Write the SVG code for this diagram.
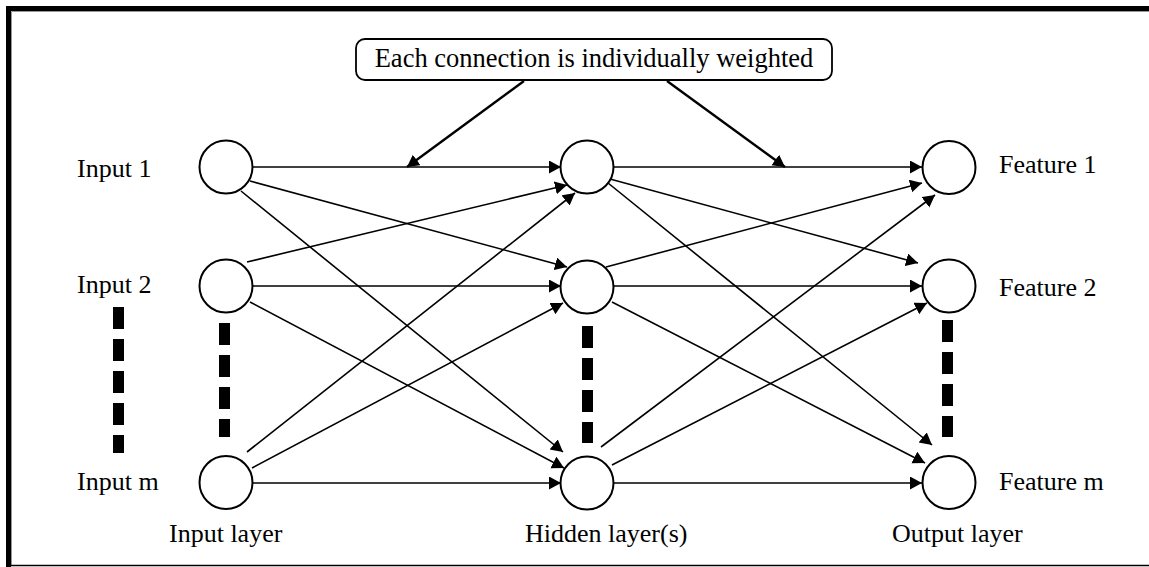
<svg xmlns="http://www.w3.org/2000/svg" width="1149" height="567" viewBox="0 0 1149 567">
<style>
text{font-family:"Liberation Serif","Times New Roman",serif;font-size:26px;fill:#000}
.node{fill:#fff;stroke:#000;stroke-width:2}
.c{stroke:#000;stroke-width:1.6;fill:none;marker-end:url(#ah)}
.w{stroke:#000;stroke-width:2.4;fill:none;marker-end:url(#ah)}
.dots{stroke:#000;stroke-width:11;stroke-dasharray:22 10;fill:none}
</style>
<defs>
<marker id="ah" markerUnits="userSpaceOnUse" markerWidth="14" markerHeight="14" refX="12" refY="6.5" orient="auto">
<path d="M0,0 L12,6.5 L0,13 z" fill="#000"/>
</marker>
</defs>
<rect width="1149" height="567" fill="#fff"/>
<g id="frame">
<line x1="6" y1="8.5" x2="1149" y2="8.5" stroke="#000" stroke-width="5"/>
<line x1="8.5" y1="6" x2="8.5" y2="567" stroke="#000" stroke-width="5"/>
<line x1="11.5" y1="11.5" x2="1149" y2="11.5" stroke="#999" stroke-width="1"/>
<line x1="11.5" y1="11.5" x2="11.5" y2="565" stroke="#999" stroke-width="1"/>
<line x1="6" y1="565.5" x2="1149" y2="565.5" stroke="#000" stroke-width="1.5"/>
</g>
<g id="note">
<rect x="356" y="39" width="476" height="41" rx="9" ry="9" fill="#fff" stroke="#000" stroke-width="1.8"/>
<text x="594" y="67" text-anchor="middle" style="font-size:26.5px">Each connection is individually weighted</text>
</g>
<g id="connectors">
<line class="w" x1="524" y1="81" x2="407" y2="167"/>
<line class="w" x1="667" y1="81" x2="785" y2="167"/>
<line class="c" x1="253" y1="167" x2="561" y2="167"/>
<line class="c" x1="250" y1="181" x2="567" y2="267"/>
<line class="c" x1="241" y1="191" x2="563" y2="452"/>
<line class="c" x1="247" y1="262" x2="567" y2="185"/>
<line class="c" x1="253" y1="286" x2="561" y2="286"/>
<line class="c" x1="250" y1="302" x2="564" y2="468"/>
<line class="c" x1="247" y1="452" x2="575" y2="193"/>
<line class="c" x1="252" y1="468" x2="563" y2="303"/>
<line class="c" x1="253" y1="483" x2="561" y2="483"/>
<line class="c" x1="613" y1="167" x2="922" y2="167"/>
<line class="c" x1="610" y1="179" x2="918" y2="263"/>
<line class="c" x1="608" y1="183" x2="932" y2="445"/>
<line class="c" x1="606" y1="267" x2="922" y2="183"/>
<line class="c" x1="613" y1="286" x2="922" y2="286"/>
<line class="c" x1="612" y1="302" x2="925" y2="463"/>
<line class="c" x1="601" y1="447" x2="935" y2="195"/>
<line class="c" x1="612" y1="465" x2="927" y2="303"/>
<line class="c" x1="613" y1="483" x2="922" y2="483"/>
</g>
<g id="ellipsis">
<line class="dots" x1="118.5" y1="307" x2="118.5" y2="453"/>
<line class="dots" x1="224.5" y1="323" x2="224.5" y2="437"/>
<line class="dots" x1="587.5" y1="326" x2="587.5" y2="443"/>
<line class="dots" x1="947.5" y1="320" x2="947.5" y2="437"/>
</g>
<g id="input1"><circle class="node" cx="226" cy="167" r="26.5"/><text x="77" y="177">Input 1</text></g>
<g id="input2"><circle class="node" cx="226" cy="286" r="26.5"/><text x="77" y="293">Input 2</text></g>
<g id="inputm"><circle class="node" cx="226" cy="482.5" r="26.5"/><text x="77" y="490">Input m</text></g>
<g id="hidden1"><circle class="node" cx="587" cy="167" r="26.5"/></g>
<g id="hidden2"><circle class="node" cx="587" cy="287" r="26.5"/></g>
<g id="hiddenm"><circle class="node" cx="587" cy="483" r="26.5"/></g>
<g id="output1"><circle class="node" cx="949" cy="167.5" r="26.5"/><text x="999" y="173">Feature 1</text></g>
<g id="output2"><circle class="node" cx="949" cy="286" r="26.5"/><text x="999" y="296">Feature 2</text></g>
<g id="outputm"><circle class="node" cx="949" cy="482.5" r="26.5"/><text x="999" y="490">Feature m</text></g>
<g id="layer-labels">
<text x="169" y="542">Input layer</text>
<text x="525" y="542">Hidden layer(s)</text>
<text x="892" y="542">Output layer</text>
</g>
</svg>
